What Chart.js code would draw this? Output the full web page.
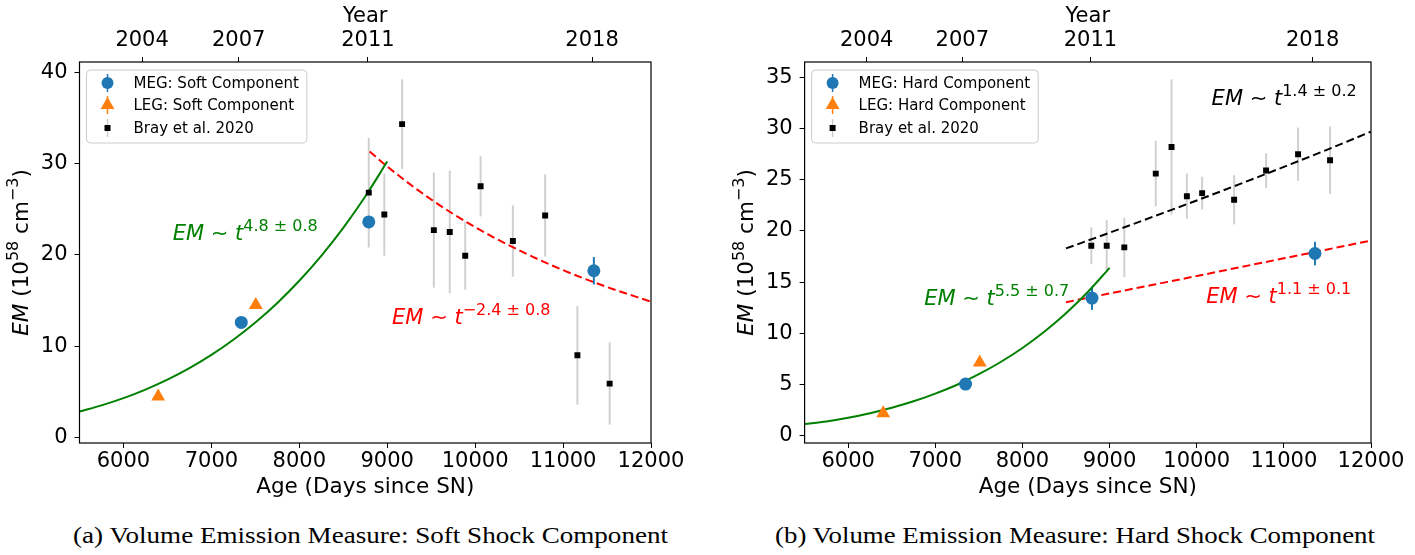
<!DOCTYPE html>
<html>
<head>
<meta charset="utf-8">
<script src="https://cdn.jsdelivr.net/npm/chart.js@4.4.1/dist/chart.umd.min.js"></script>
<style>
  body { margin: 0; background: #fff; width: 1415px; height: 555px; position: relative; overflow: hidden; }
  canvas { position: absolute; top: 0; }
  #softChart { left: 0; }
  #hardChart { left: 700px; }
  .caption { position: absolute; top: 523px; font-family: "Liberation Serif", serif; font-size: 23px;
             white-space: nowrap; transform-origin: 50% 50%; color: #000; }
</style>
</head>
<body>
<canvas id="softChart" width="700" height="500"></canvas>
<canvas id="hardChart" width="715" height="500"></canvas>
<div class="caption" id="capA" data-cx="370" data-w="595">(a) Volume Emission Measure: Soft Shock Component</div>
<div class="caption" id="capB" data-cx="1075" data-w="600">(b) Volume Emission Measure: Hard Shock Component</div>
<script>
// axis ticks
const dayTicks = [6000, 7000, 8000, 9000, 10000, 11000, 12000];
const yearTicks = [6212, 7310, 8780, 11330];
const yearLabels = ['2004', '2007', '2011', '2018'];
const softTicks = [0, 10, 20, 30, 40];
const hardTicks = [0, 5, 10, 15, 20, 25, 30, 35];

// Bray et al. 2020 epochs (same for both components)
const brayDays = [8790, 8967, 9169, 9530, 9711, 9887, 10062, 10429, 10796, 11163, 11530];

// soft component
const softMegDays = [7340, 8790, 11350];
const softMegEm = [12.6, 23.6, 18.25];
const softMegErr = [0.3, 0.4, 1.5];
const softLegDays = [6395, 7505];
const softLegEm = [4.5, 14.5];
const braySoftEm = [26.8, 24.4, 34.3, 22.7, 22.5, 19.9, 27.5, 21.5, 24.3, 9.0, 5.9];
const braySoftErr = [6.0, 4.5, 4.9, 6.3, 6.7, 3.7, 3.3, 3.9, 4.5, 5.4, 4.5];
// fitted curves
const softRiseDays = [5500, 5750, 6000, 6250, 6500, 6750, 7000, 7250, 7500, 7750, 8000, 8250, 8500, 8750, 9000];
const softRiseEm = [2.84, 3.52, 4.31, 5.25, 6.33, 7.59, 9.04, 10.7, 12.59, 14.73, 17.16, 19.89, 22.95, 26.38, 30.2];
const softFallDays = [8800, 9000, 9500, 10000, 10500, 11000, 11500, 12000];
const softFallEm = [31.3, 29.66, 26.05, 23.03, 20.49, 18.32, 16.47, 14.87];

// hard component
const hardMegDays = [7347, 8798, 11357];
const hardMegEm = [5.05, 13.45, 17.8];
const hardMegErr = [0.3, 1.15, 1.15];
const hardLegDays = [6402, 7510];
const hardLegEm = [2.2, 7.15];
const brayHardEm = [18.55, 18.55, 18.4, 25.6, 28.2, 23.4, 23.7, 23.05, 25.9, 27.5, 26.9];
const brayHardErr = [1.8, 2.5, 2.9, 3.2, 6.6, 2.2, 1.6, 2.4, 1.7, 2.6, 3.3];
const hardRiseDays = [5500, 5750, 6000, 6250, 6500, 6750, 7000, 7250, 7500, 7750, 8000, 8250, 8500, 8750, 9000];
const hardRiseEm = [1.15, 1.4, 1.76, 2.21, 2.74, 3.37, 4.12, 4.99, 6.02, 7.21, 8.58, 10.16, 11.97, 14.04, 16.4];
const hardFitDays = [8500, 9000, 9500, 10000, 10500, 11000, 11500, 12000];
const hardBrayFitEm = [18.3, 19.83, 21.4, 22.98, 24.6, 26.26, 27.95, 29.7];
const hardMegFitEm = [13.05, 13.9, 14.75, 15.6, 16.47, 17.33, 18.2, 19.07];

const BLUE = '#1f77b4', ORANGE = '#ff7f0e', GREEN = '#008000', RED = '#ff0000';
const FONT = '"DejaVu Sans", sans-serif';

Chart.defaults.font.family = FONT;
Chart.defaults.color = '#000';

function pts(xs, ys) {
    return xs.map((x, i) => ({ x: x, y: ys[i] }));
}

function richWidth(ctx, parts, size) {
    let w = 0;
    parts.forEach(p => {
        ctx.font = (p.it ? 'italic ' : '') + (p.sup ? Math.round(size * 0.74) : size) + 'px ' + FONT;
        w += ctx.measureText(p.t).width;
    });
    return w;
}

function drawRich(ctx, x, y, parts, size, color) {
    ctx.fillStyle = color;
    ctx.textAlign = 'left';
    ctx.textBaseline = 'alphabetic';
    parts.forEach(p => {
        ctx.font = (p.it ? 'italic ' : '') + (p.sup ? Math.round(size * 0.74) : size) + 'px ' + FONT;
        ctx.fillText(p.t, x, y - (p.sup ? size * 0.42 : 0));
        x += ctx.measureText(p.t).width;
    });
}

function powerLaw(exp) {
    return [{ t: 'EM', it: true }, { t: ' \u223C ' }, { t: 't', it: true }, { t: exp, sup: true }];
}

function triangle(ctx, x, y, r) {
    ctx.beginPath();
    for (let k = 0; k < 3; k++) {
        const a = k * 2 * Math.PI / 3;
        const px = x + Math.sin(a) * r, py = y - Math.cos(a) * r;
        if (k === 0) ctx.moveTo(px, py); else ctx.lineTo(px, py);
    }
    ctx.closePath();
    ctx.fill();
}

function vline(ctx, x, y1, y2, color, w) {
    ctx.strokeStyle = color;
    ctx.lineWidth = w;
    ctx.beginPath();
    ctx.moveTo(x, y1);
    ctx.lineTo(x, y2);
    ctx.stroke();
}

function decorPlugin(cfg) {
    return {
        id: 'decor',
        beforeDatasetsDraw(chart) {
            const ctx = chart.ctx, xs = chart.scales.x, ys = chart.scales.y;
            ctx.save();
            cfg.errors.forEach(g => {
                g.days.forEach((d, i) => {
                    const px = xs.getPixelForValue(d);
                    vline(ctx, px, ys.getPixelForValue(g.em[i] - g.err[i]),
                          ys.getPixelForValue(g.em[i] + g.err[i]), g.color, g.width);
                });
            });
            ctx.restore();
        },
        afterDraw(chart) {
            const ctx = chart.ctx, a = chart.chartArea;
            const xs = chart.scales.x, ys = chart.scales.y;
            ctx.save();
            // frame
            ctx.strokeStyle = '#000';
            ctx.lineWidth = 1.2;
            ctx.strokeRect(a.left, a.top, a.right - a.left, a.bottom - a.top);

            // fit annotations
            cfg.notes.forEach(n => {
                drawRich(ctx, xs.getPixelForValue(n.x), ys.getPixelForValue(n.y), n.parts, 21, n.color);
            });

            // legend
            ctx.font = '15px ' + FONT;
            const tw = Math.max(...cfg.legend.map(e => ctx.measureText(e.label).width));
            const bx = a.left + 7, by = a.top + 8, bw = 47 + tw + 8, bh = 73;
            ctx.beginPath();
            ctx.roundRect(bx, by, bw, bh, 4);
            ctx.fillStyle = 'rgba(255,255,255,0.8)';
            ctx.fill();
            ctx.strokeStyle = '#cccccc';
            ctx.lineWidth = 1;
            ctx.stroke();
            const rows = [by + 13, by + 35, by + 58];
            cfg.legend.forEach((e, i) => {
                const mx = bx + 21, my = rows[i];
                if (e.kind === 'meg') {
                    vline(ctx, mx, my - 9, my + 9, BLUE, 1.5);
                    ctx.fillStyle = BLUE;
                    ctx.beginPath();
                    ctx.arc(mx, my, 6, 0, 2 * Math.PI);
                    ctx.fill();
                } else if (e.kind === 'leg') {
                    vline(ctx, mx, my - 9, my + 9, ORANGE, 1.5);
                    ctx.fillStyle = ORANGE;
                    triangle(ctx, mx, my, 8);
                } else {
                    vline(ctx, mx, my - 9, my + 9, '#cccccc', 1.5);
                    ctx.fillStyle = '#000';
                    ctx.fillRect(mx - 3, my - 3, 6, 6);
                }
                ctx.fillStyle = '#000';
                ctx.font = '15px ' + FONT;
                ctx.textAlign = 'left';
                ctx.textBaseline = 'middle';
                ctx.fillText(e.label, bx + 47, my + 1);
            });

            // y axis title
            const yParts = [{ t: 'EM', it: true }, { t: ' (10' }, { t: '58', sup: true },
                            { t: ' cm' }, { t: '\u22123', sup: true }, { t: ')' }];
            const w = richWidth(ctx, yParts, 21.5);
            ctx.translate(a.left - 59, (a.top + a.bottom) / 2);
            ctx.rotate(-Math.PI / 2);
            drawRich(ctx, -w / 2, 7, yParts, 21.5, '#000');
            ctx.restore();
        }
    };
}

function makePanel(id, p) {
    const tickGrid = { drawOnChartArea: false, drawTicks: true, tickLength: 5, color: '#000', tickWidth: 1 };
    return new Chart(document.getElementById(id), {
        type: 'scatter',
        data: {
            datasets: [
                { label: 'meg', data: pts(p.megDays, p.megEm), pointStyle: 'circle', pointRadius: 6.5,
                  backgroundColor: BLUE, borderWidth: 0 },
                { label: 'leg', data: pts(p.legDays, p.legEm), pointStyle: 'triangle', pointRadius: 8,
                  backgroundColor: ORANGE, borderWidth: 0 },
                { label: 'bray', data: pts(brayDays, p.brayEm), pointStyle: 'rect', pointRadius: 4.2,
                  backgroundColor: '#000', borderWidth: 0 }
            ].concat(p.lines.map(l => ({
                label: l.label, data: pts(l.days, l.em), showLine: true, pointRadius: 0,
                borderColor: l.color, borderWidth: 2, borderDash: l.dash || [],
                cubicInterpolationMode: 'monotone', fill: false
            })))
        },
        options: {
            responsive: false,
            animation: false,
            events: [],
            layout: { padding: { left: 0, right: p.padRight, top: 0, bottom: 0 } },
            plugins: { legend: { display: false }, tooltip: { enabled: false } },
            scales: {
                x: {
                    type: 'linear', position: 'bottom', min: 5500, max: 12000,
                    afterBuildTicks: s => { s.ticks = dayTicks.map(v => ({ value: v })); },
                    afterFit: s => { s.height = 57; },
                    ticks: { font: { size: 21 }, padding: 1, maxRotation: 0, autoSkip: false,
                             callback: v => String(v) },
                    grid: tickGrid, border: { display: false },
                    title: { display: true, text: 'Age (Days since SN)', font: { size: 21.5 },
                             padding: { top: 0, bottom: 0 } }
                },
                x2: {
                    type: 'linear', position: 'top', min: 5500, max: 12000,
                    afterBuildTicks: s => { s.ticks = yearTicks.map(v => ({ value: v })); },
                    afterFit: s => { s.height = 62; },
                    ticks: { font: { size: 21 }, padding: 4, maxRotation: 0, autoSkip: false,
                             callback: (v, i) => yearLabels[i] },
                    grid: tickGrid, border: { display: false },
                    title: { display: true, text: 'Year', font: { size: 21 }, padding: { top: 4, bottom: 0 } }
                },
                y: {
                    type: 'linear', position: 'left', min: p.yMin, max: p.yMax,
                    afterBuildTicks: s => { s.ticks = p.yTicks.map(v => ({ value: v })); },
                    afterFit: s => { s.width = p.yWidth; },
                    ticks: { font: { size: 21 }, padding: 7, callback: v => String(v) },
                    grid: tickGrid, border: { display: false }
                }
            }
        },
        plugins: [decorPlugin({
            errors: [
                { days: brayDays, em: p.brayEm, err: p.brayErr, color: '#d0d0d0', width: 2 },
                { days: p.megDays, em: p.megEm, err: p.megErr, color: BLUE, width: 2 }
            ],
            notes: p.notes,
            legend: [
                { kind: 'meg', label: 'MEG: ' + p.comp + ' Component' },
                { kind: 'leg', label: 'LEG: ' + p.comp + ' Component' },
                { kind: 'bray', label: 'Bray et al. 2020' }
            ]
        })]
    });
}

makePanel('softChart', {
    comp: 'Soft', yMin: -0.6, yMax: 41.1, yTicks: softTicks, yWidth: 79.5, padRight: 49,
    megDays: softMegDays, megEm: softMegEm, megErr: softMegErr,
    legDays: softLegDays, legEm: softLegEm,
    brayEm: braySoftEm, brayErr: braySoftErr,
    lines: [
        { label: 'rise', days: softRiseDays, em: softRiseEm, color: GREEN },
        { label: 'fall', days: softFallDays, em: softFallEm, color: RED, dash: [8, 4] }
    ],
    notes: [
        { x: 6560, y: 21.6, parts: powerLaw('4.8 \u00B1 0.8'), color: GREEN },
        { x: 9055, y: 12.4, parts: powerLaw('\u22122.4 \u00B1 0.8'), color: RED }
    ]
});

makePanel('hardChart', {
    comp: 'Hard', yMin: -0.7, yMax: 36.5, yTicks: hardTicks, yWidth: 104.6, padRight: 44,
    megDays: hardMegDays, megEm: hardMegEm, megErr: hardMegErr,
    legDays: hardLegDays, legEm: hardLegEm,
    brayEm: brayHardEm, brayErr: brayHardErr,
    lines: [
        { label: 'rise', days: hardRiseDays, em: hardRiseEm, color: GREEN },
        { label: 'megFit', days: hardFitDays, em: hardMegFitEm, color: RED, dash: [8, 4] },
        { label: 'brayFit', days: hardFitDays, em: hardBrayFitEm, color: '#000', dash: [8, 4] }
    ],
    notes: [
        { x: 6872, y: 12.8, parts: powerLaw('5.5 \u00B1 0.7'), color: GREEN },
        { x: 10109, y: 13.0, parts: powerLaw('1.1 \u00B1 0.1'), color: RED },
        { x: 10171, y: 32.3, parts: powerLaw('1.4 \u00B1 0.2'), color: '#000' }
    ]
});

// fit captions to the width they take in the figure
document.querySelectorAll('.caption').forEach(el => {
    const w = el.offsetWidth;
    const sx = Number(el.dataset.w) / w;
    el.style.left = (Number(el.dataset.cx) - w / 2) + 'px';
    el.style.transform = 'scaleX(' + sx.toFixed(3) + ')';
});
</script>
</body>
</html>
